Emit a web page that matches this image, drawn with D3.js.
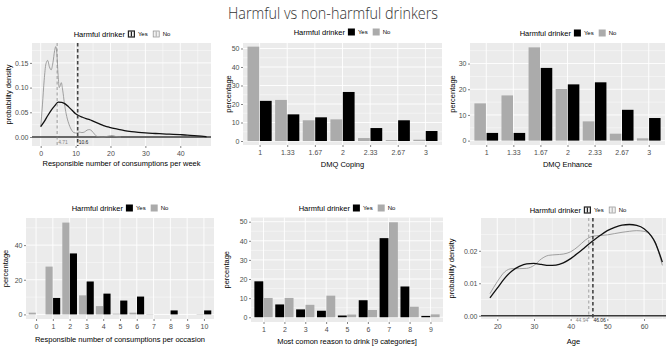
<!DOCTYPE html>
<html><head><meta charset="utf-8">
<script src="https://cdn.jsdelivr.net/npm/d3@7"></script>
<style>
body{margin:0;background:#fff;}
text{font-family:"Liberation Sans",Arial,sans-serif;}
</style>
</head><body>
<script>
// ---------- DATA ----------
const chartTitle = "Harmful vs non-harmful drinkers";
const legendTitle = "Harmful drinker";
const groupLabels = ["Yes", "No"];

// Panel 1: density of responsible consumptions per week
const weekYesX = [0,1,2,3,4,5,6,7,8,9,10,11,12,13,14,15,16,17,18,19,20,22,24,26,28,30,32,34,36,38,40,42,44,46,47.5];
const weekYesD = [0.021,0.031,0.043,0.054,0.063,0.0705,0.070,0.067,0.061,0.054,0.047,0.043,0.040,0.037,0.035,0.032,0.029,0.026,0.023,0.021,0.019,0.016,0.013,0.011,0.0095,0.0083,0.0074,0.0067,0.006,0.0053,0.0047,0.004,0.0029,0.0016,0.0005];
const weekNoX = [0,0.5,1,1.5,2,2.5,3,3.5,4,4.3,4.6,5,5.3,5.6,5.9,6.3,6.8,7.3,8,8.7,9.5,10.3,11,11.8,12.5,13.3,14,14.7,15.4,16.2,18,19.5,20.5,21.5,23];
const weekNoD = [0.020,0.065,0.115,0.148,0.155,0.142,0.136,0.150,0.175,0.183,0.172,0.125,0.100,0.104,0.110,0.095,0.068,0.047,0.028,0.016,0.009,0.008,0.010,0.009,0.010,0.014,0.015,0.012,0.006,0.001,0,0.002,0.003,0.001,0];
const weekMeans = {Yes: 10.6, No: 4.71};
const weekXTicks = [0,10,20,30,40];
const weekYTicks = [0,0.05,0.10,0.15];

// Panel 2: DMQ Coping
const dmqCats = ["1","1.33","1.67","2","2.33","2.67","3"];
const copingYes = [21.7,14.4,12.8,26.5,7.0,11.2,5.4];
const copingNo  = [51.0,22.2,11.2,11.7,1.6,0.5,0.7];
const copingYTicks = [0,10,20,30,40,50];

// Panel 3: DMQ Enhance
const enhanceYes = [3.0,3.0,28.3,21.9,22.7,12.0,8.8];
const enhanceNo  = [14.5,17.6,36.3,20.1,7.5,2.7,0.9];
const enhanceYTicks = [0,10,20,30];

// Panel 4: consumptions per occasion
const occasionCats = ["0","1","2","3","4","5","6","7","8","9","10"];
const occasionYes = [0,9.5,35.2,19.0,12.0,8.0,10.3,0,2.3,0,2.3];
const occasionNo  = [1.0,27.6,53.0,11.0,4.8,0.4,1.0,0.2,0,0,0.2];
const occasionYTicks = [0,20,40];

// Panel 5: most common reason to drink
const reasonCats = ["1","2","3","4","5","6","7","8","9"];
const reasonYes = [18.8,6.7,4.1,3.4,0.9,8.9,41.4,16.1,0.7];
const reasonNo  = [10.1,10.1,6.5,11.3,1.4,3.8,49.7,5.5,1.5];
const reasonYTicks = [0,10,20,30,40,50];

// Panel 6: age density
const ageYesX = [18,20,22,24,26,28,30,32,34,36,38,40,42,44,46,48,50,52,54,56,58,60,62,63,64,65];
const ageYesD = [0.0055,0.0085,0.0115,0.0138,0.0152,0.0160,0.0161,0.0158,0.0155,0.0156,0.0163,0.0176,0.0193,0.0212,0.0230,0.0247,0.0262,0.0272,0.0279,0.0281,0.0278,0.0268,0.0245,0.0226,0.0198,0.0165];
const ageNoX = [18,20,22,24,26,28,30,32,34,36,38,40,42,44,46,48,50,52,54,56,58,60,62,63,64,65];
const ageNoD = [0.0068,0.0105,0.0135,0.0145,0.0145,0.0146,0.0155,0.0175,0.0186,0.0188,0.0190,0.0197,0.0213,0.0233,0.0245,0.0247,0.0249,0.0253,0.0257,0.0260,0.0262,0.0260,0.0245,0.0228,0.0195,0.0155];
const ageMeans = {Yes: 46.06, No: 44.94};
const ageXTicks = [20,30,40,50,60];
const ageYTicks = [0,0.01,0.02];

// ---------- STYLE ----------
const COL_YES = "#000000", COL_NO = "#ababab";
const LINE_NO = "#8c8c8c";
const BG = "#ebebeb";
const TICK_COL = "#4d4d4d";

const svg = d3.select("body").append("svg").attr("width",666).attr("height",349);

svg.append("text").attr("x",333).attr("y",19).attr("text-anchor","middle")
  .style("font-family","'Open Sans',sans-serif").style("font-weight",300)
  .style("font-size","17px").attr("fill","#333")
  .attr("textLength",210).attr("lengthAdjust","spacingAndGlyphs").text(chartTitle);

let clipId = 0;
function makePanel(cfg){
  const g = svg.append("g");
  const [x0,x1] = cfg.px, [y0,y1] = cfg.py;
  const xs = d3.scaleLinear().domain(cfg.xd).range([x0,x1]);
  const ys = d3.scaleLinear().domain(cfg.yd).range([y1,y0]);
  g.append("rect").attr("x",x0).attr("y",y0).attr("width",x1-x0).attr("height",y1-y0).attr("fill",BG);
  const id = "clip"+(clipId++);
  svg.append("clipPath").attr("id",id).append("rect").attr("x",x0).attr("y",y0).attr("width",x1-x0).attr("height",y1-y0);
  const grid = g.append("g");
  (cfg.yMinor||[]).forEach(v=>grid.append("line").attr("x1",x0).attr("x2",x1).attr("y1",ys(v)).attr("y2",ys(v)).attr("stroke","#fff").attr("stroke-width",0.45));
  (cfg.xMinor||[]).forEach(v=>grid.append("line").attr("y1",y0).attr("y2",y1).attr("x1",xs(v)).attr("x2",xs(v)).attr("stroke","#fff").attr("stroke-width",0.45));
  cfg.yTicks.forEach(v=>grid.append("line").attr("x1",x0).attr("x2",x1).attr("y1",ys(v)).attr("y2",ys(v)).attr("stroke","#fff").attr("stroke-width",0.9));
  cfg.xTickPos.forEach(v=>grid.append("line").attr("y1",y0).attr("y2",y1).attr("x1",xs(v)).attr("x2",xs(v)).attr("stroke","#fff").attr("stroke-width",0.9));
  const plot = g.append("g").attr("clip-path",`url(#${id})`);
  const xa = d3.axisBottom(xs).tickValues(cfg.xTickPos).tickFormat((d,i)=>cfg.xLabels[i]).tickSize(2).tickPadding(3.5);
  const ya = d3.axisLeft(ys).tickValues(cfg.yTicks).tickFormat(cfg.yFmt).tickSize(2).tickPadding(1.5);
  const gx = g.append("g").attr("transform",`translate(0,${y1})`).call(xa);
  const gy = g.append("g").attr("transform",`translate(${x0},0)`).call(ya);
  [gx,gy].forEach(a=>{
    a.select(".domain").remove();
    a.selectAll("line").attr("stroke","#333").attr("stroke-width",0.6);
    a.selectAll("text").attr("fill",TICK_COL).style("font-size","7px").style("font-family","'Liberation Sans',Arial,sans-serif");
  });
  g.append("text").attr("x",(x0+Math.min(x1,666))/2 + (cfg.xtOff||0)).attr("y",cfg.xTitleY).attr("text-anchor","middle")
    .style("font-size","7.5px").attr("fill","#000").text(cfg.xTitle);
  g.append("text").attr("transform",`translate(${cfg.yTitleX},${(y0+y1)/2}) rotate(-90)`).attr("text-anchor","middle")
    .attr("dy","0.35em").style("font-size","7.5px").attr("fill","#000").text(cfg.yTitle);
  const lg = g.append("g");
  const lt = lg.append("text").attr("x",0).attr("y",0).attr("dy","0.35em").style("font-size","7.5px").attr("fill","#000").text(legendTitle);
  let cx = lt.node().getComputedTextLength()+3;
  groupLabels.forEach((lab,i)=>{
    const col = i===0?COL_YES:COL_NO;
    if(cfg.kind==="density"){
      const lc = i===0?"#222":LINE_NO;
      lg.append("rect").attr("x",cx+0.5).attr("y",-3).attr("width",6).attr("height",6).attr("fill","#f2f2f2").attr("stroke",lc).attr("stroke-width",i===0?1.2:0.7);
      lg.append("line").attr("x1",cx+3.5).attr("x2",cx+3.5).attr("y1",-2.5).attr("y2",2.5).attr("stroke",lc).attr("stroke-width",i===0?1.2:0.7);
    } else {
      lg.append("rect").attr("x",cx).attr("y",-3.5).attr("width",7).attr("height",7).attr("fill",col);
    }
    cx += 10;
    const t = lg.append("text").attr("x",cx).attr("y",0).attr("dy","0.35em").style("font-size","6px").attr("fill","#000").text(lab);
    cx += t.node().getComputedTextLength() + (i===0?5:0);
  });
  lg.attr("transform",`translate(${cfg.legendCX - cx/2},${cfg.legendY})`);
  return {g, plot, xs, ys, x0, x1, y0, y1};
}

function drawBars(P, yesVals, noVals, yesFirst){
  const w = 0.425;
  const groups = yesFirst ? [[yesVals,COL_YES,-0.225],[noVals,COL_NO,0.225]] : [[noVals,COL_NO,-0.225],[yesVals,COL_YES,0.225]];
  groups.forEach(([vals,col,off])=>{
    P.plot.selectAll(null).data(vals.map((v,i)=>({v,i}))).enter().filter(d=>d.v>0)
      .append("rect")
      .attr("x",d=>P.xs(d.i+off-w/2)).attr("width",d=>P.xs(d.i+off+w/2)-P.xs(d.i+off-w/2))
      .attr("y",d=>P.ys(d.v)).attr("height",d=>P.ys(0)-P.ys(d.v)).attr("fill",col);
  });
}

function drawDensity(P, yX, yD, nX, nD, means, labelMode){
  P.plot.append("line").attr("x1",P.x0).attr("x2",P.x1).attr("y1",P.ys(0)).attr("y2",P.ys(0)).attr("stroke","#3a3a3a").attr("stroke-width",1.6);
  const line = d3.line().x(d=>P.xs(d[0])).y(d=>P.ys(d[1])).curve(d3.curveMonotoneX);
  P.plot.append("path").datum(nX.map((x,i)=>[x,nD[i]])).attr("d",line).attr("fill","none").attr("stroke",LINE_NO).attr("stroke-width",0.8);
  P.plot.append("path").datum(yX.map((x,i)=>[x,yD[i]])).attr("d",line).attr("fill","none").attr("stroke","#111").attr("stroke-width",1.3);
  P.plot.append("line").attr("x1",P.xs(means.No)).attr("x2",P.xs(means.No)).attr("y1",P.y0).attr("y2",P.y1)
    .attr("stroke","#888").attr("stroke-width",0.8).attr("stroke-dasharray","3,2.5");
  P.plot.append("line").attr("x1",P.xs(means.Yes)).attr("x2",P.xs(means.Yes)).attr("y1",P.y0).attr("y2",P.y1)
    .attr("stroke","#444").attr("stroke-width",1.6).attr("stroke-dasharray","3.5,2.5");
  const ly = P.ys(0)+6.5;
  const fmt = v=>String(v);
  if(labelMode==="right"){
    P.g.append("text").attr("x",P.xs(means.No)+1).attr("y",ly).style("font-size","5px").attr("fill","#888").text(fmt(means.No));
    P.g.append("text").attr("x",P.xs(means.Yes)+1).attr("y",ly).style("font-size","5px").attr("fill","#222").text(fmt(means.Yes));
  } else {
    P.g.append("text").attr("x",P.xs(means.No)-0.5).attr("y",ly).attr("text-anchor","end").style("font-size","5px").attr("fill","#888").text(fmt(means.No));
    P.g.append("text").attr("x",P.xs(means.Yes)+0.5).attr("y",ly).style("font-size","5px").attr("fill","#222").text(fmt(means.Yes));
  }
}

const fmt2 = d3.format(".2f");
const fmt0 = d3.format("d");
const mids = t => t.slice(0,-1).map((v,i)=>(v+t[i+1])/2).concat([t[t.length-1]+(t[1]-t[0])/2]);

const P1 = makePanel({kind:"density", px:[32,211], py:[43,146], xd:[-2.49,48.8], yd:[-0.0182,0.1903],
  xTickPos:weekXTicks, xLabels:weekXTicks.map(String), yTicks:weekYTicks, yFmt:fmt2,
  xMinor:mids(weekXTicks), yMinor:mids(weekYTicks),
  xTitle:"Responsible number of consumptions per week", xTitleY:166, yTitle:"probability density", yTitleX:8,
  legendCX:122, legendY:34});
drawDensity(P1, weekYesX, weekYesD, weekNoX, weekNoD, weekMeans, "right");

const idx7 = dmqCats.map((d,i)=>i);
const P2 = makePanel({kind:"bar", px:[243,442], py:[43,145], xd:[-0.6,6.6], yd:[-2.16,52.97],
  xTickPos:idx7, xLabels:dmqCats, yTicks:copingYTicks, yFmt:fmt0, yMinor:mids(copingYTicks),
  xTitle:"DMQ Coping", xTitleY:167, yTitle:"percentage", yTitleX:228, legendCX:342, legendY:32});
drawBars(P2, copingYes, copingNo, false);

const P3 = makePanel({kind:"bar", px:[470,665], py:[43,145], xd:[-0.6,6.6], yd:[-1.7,38.0],
  xTickPos:idx7, xLabels:dmqCats, yTicks:enhanceYTicks, yFmt:fmt0, yMinor:mids(enhanceYTicks),
  xTitle:"DMQ Enhance", xTitleY:167, yTitle:"percentage", yTitleX:452, legendCX:568, legendY:33});
drawBars(P3, enhanceYes, enhanceNo, false);

const P4 = makePanel({kind:"bar", px:[26,214], py:[218,319], xd:[-0.6,10.6], yd:[-2.65,55.65],
  xTickPos:occasionCats.map((d,i)=>i), xLabels:occasionCats, yTicks:occasionYTicks, yFmt:fmt0, yMinor:mids(occasionYTicks),
  xTitle:"Responsible number of consumptions per occasion", xTitleY:342, yTitle:"percentage", yTitleX:5, legendCX:120, legendY:208});
drawBars(P4, occasionYes, occasionNo, false);

const P5 = makePanel({kind:"bar", px:[251,443], py:[217.5,322], xd:[-0.6,8.6], yd:[-2.49,52.2],
  xTickPos:reasonCats.map((d,i)=>i), xLabels:reasonCats, yTicks:reasonYTicks, yFmt:fmt0, yMinor:mids(reasonYTicks),
  xTitle:"Most comon reason to drink [9 categories]", xTitleY:344, yTitle:"percentage", yTitleX:226, legendCX:347, legendY:208});
drawBars(P5, reasonYes, reasonNo, true);

const P6 = makePanel({kind:"density", px:[481,671], py:[218,319], xd:[15.56,67.35], yd:[-0.001,0.0301],
  xTickPos:ageXTicks, xLabels:ageXTicks.map(String), yTicks:ageYTicks, yFmt:fmt2,
  xMinor:mids(ageXTicks), yMinor:mids(ageYTicks),
  xTitle:"Age", xTitleY:344, xtOff:0, yTitle:"probability density", yTitleX:451, legendCX:578, legendY:210});
drawDensity(P6, ageYesX, ageYesD, ageNoX, ageNoD, ageMeans, "split");
</script>
</body></html>
